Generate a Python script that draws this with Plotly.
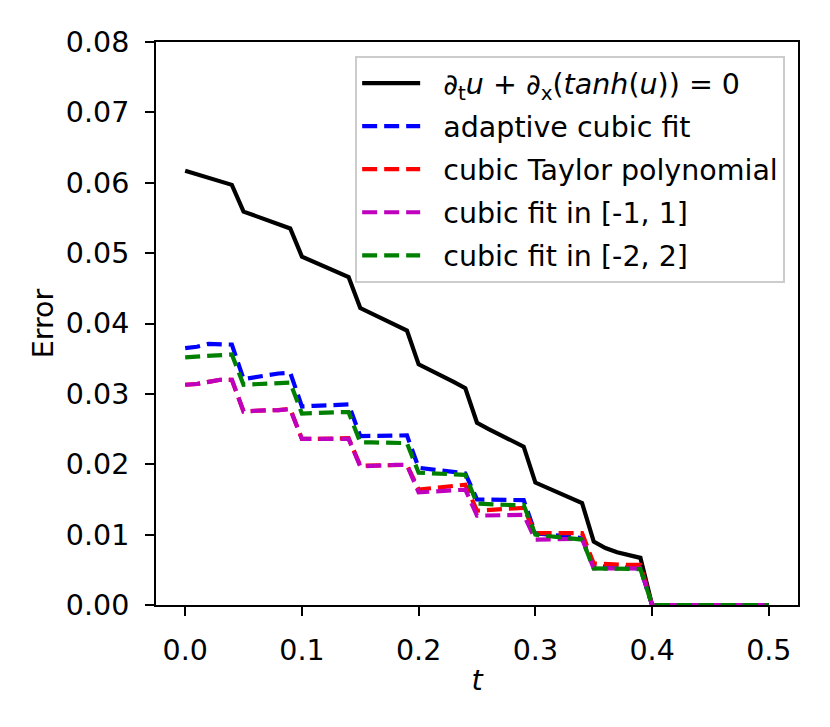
import plotly.graph_objects as go

# time grid (t) and error curves
t = [0.00, 0.01, 0.02, 0.03, 0.04, 0.05, 0.06, 0.07, 0.08, 0.09,
     0.10, 0.11, 0.12, 0.13, 0.14, 0.15, 0.16, 0.17, 0.18, 0.19,
     0.20, 0.21, 0.22, 0.23, 0.24, 0.25, 0.26, 0.27, 0.28, 0.29,
     0.30, 0.31, 0.32, 0.33, 0.34, 0.35, 0.36, 0.37, 0.38, 0.39,
     0.40, 0.41, 0.42, 0.43, 0.44, 0.45, 0.46, 0.47, 0.48, 0.49, 0.50]

tail = [0.0] * 10

err_exact = [0.0617, 0.0612, 0.0607, 0.0602, 0.0597,
             0.0559, 0.0553, 0.0547, 0.0541, 0.0535,
             0.0495, 0.0488, 0.0481, 0.0474, 0.0466,
             0.0422, 0.0414, 0.0406, 0.0398, 0.0390,
             0.0342, 0.0334, 0.0325, 0.0317, 0.0308,
             0.0259, 0.0250, 0.0242, 0.0234, 0.0225,
             0.0174, 0.0167, 0.0160, 0.0152, 0.0145,
             0.0090, 0.0081, 0.0075, 0.0071, 0.0067,
             0.0] + tail

err_adaptive = [0.0365, 0.0367, 0.0371, 0.0371, 0.0370,
                0.0321, 0.0324, 0.0327, 0.0329, 0.0330,
                0.0282, 0.0283, 0.0284, 0.0285, 0.0285,
                0.0240, 0.0240, 0.0241, 0.0241, 0.0241,
                0.0195, 0.0193, 0.0191, 0.0189, 0.0187,
                0.0150, 0.0150, 0.0150, 0.0149, 0.0149,
                0.0102, 0.0100, 0.0098, 0.0097, 0.0095,
                0.0055, 0.0054, 0.0053, 0.0053, 0.0052,
                0.0] + tail

err_taylor = [0.0313, 0.0314, 0.0317, 0.0320, 0.0320,
              0.0275, 0.0276, 0.0276, 0.0277, 0.0279,
              0.0236, 0.0236, 0.0236, 0.0237, 0.0237,
              0.0198, 0.0198, 0.0199, 0.0199, 0.0199,
              0.0164, 0.0166, 0.0168, 0.0170, 0.0171,
              0.0134, 0.0135, 0.0136, 0.0137, 0.0138,
              0.0102, 0.0102, 0.0102, 0.0102, 0.0102,
              0.0059, 0.0058, 0.0058, 0.0057, 0.0057,
              0.0] + tail

err_fit1 = [0.0313, 0.0314, 0.0317, 0.0320, 0.0320,
            0.0275, 0.0276, 0.0276, 0.0277, 0.0278,
            0.0236, 0.0236, 0.0236, 0.0236, 0.0236,
            0.0197, 0.0198, 0.0198, 0.0199, 0.0199,
            0.0160, 0.0161, 0.0162, 0.0163, 0.0164,
            0.0127, 0.0127, 0.0128, 0.0128, 0.0128,
            0.0093, 0.0093, 0.0094, 0.0094, 0.0094,
            0.0052, 0.0052, 0.0052, 0.0052, 0.0052,
            0.0] + tail

err_fit2 = [0.0352, 0.0353, 0.0355, 0.0356, 0.0356,
            0.0313, 0.0314, 0.0315, 0.0316, 0.0316,
            0.0272, 0.0273, 0.0273, 0.0274, 0.0274,
            0.0231, 0.0231, 0.0231, 0.0230, 0.0230,
            0.0188, 0.0187, 0.0186, 0.0186, 0.0185,
            0.0144, 0.0143, 0.0143, 0.0142, 0.0142,
            0.0100, 0.0098, 0.0096, 0.0094, 0.0093,
            0.0052, 0.0052, 0.0051, 0.0051, 0.0051,
            0.0] + tail

x_ticks = [0.0, 0.1, 0.2, 0.3, 0.4, 0.5]
y_ticks = [0.00, 0.01, 0.02, 0.03, 0.04, 0.05, 0.06, 0.07, 0.08]

series = [
    ("\u2202<sub>t</sub><i>u</i> + \u2202<sub>x</sub>(<i>tanh</i>(<i>u</i>)) = 0", err_exact, "#000000", "solid"),
    ("adaptive cubic fit", err_adaptive, "#0000ff", "15px,7px"),
    ("cubic Taylor polynomial", err_taylor, "#ff0000", "15px,7px"),
    ("cubic fit in [-1, 1]", err_fit1, "#bf00bf", "15px,7px"),
    ("cubic fit in [-2, 2]", err_fit2, "#008000", "15px,7px"),
]

FONT = "DejaVu Sans"
FS = 28.5
PAD = "\u00a0\u00a0"  # gap between legend line and label, as in matplotlib

fig = go.Figure()
for i, (name, vals, color, dash) in enumerate(series):
    fig.add_trace(go.Scatter(x=t, y=vals, mode="lines", name=PAD + name,
                             legendgroup=str(i),
                             line=dict(color=color, width=4.2, dash=dash)))

axis_style = dict(showline=True, linecolor="black", linewidth=2, mirror=True,
                  ticks="outside", ticklen=9, tickwidth=2, tickcolor="black",
                  showgrid=False, zeroline=False, ticklabelstandoff=10,
                  tickfont=dict(family=FONT, size=FS, color="black"))

fig.update_xaxes(range=[-0.025, 0.525], tickvals=x_ticks,
                 ticktext=["%.1f" % v for v in x_ticks],
                 title=dict(text="<i>t</i>", font=dict(family=FONT, size=FS, color="black"), standoff=4),
                 **axis_style)
fig.update_yaxes(range=[0, 0.08], tickvals=y_ticks,
                 ticktext=["%.2f" % v for v in y_ticks],
                 title=dict(text="Error", font=dict(family=FONT, size=FS, color="black"), standoff=4),
                 **axis_style)

# the page body adds an 8px offset, so the figure is drawn 8px smaller
fig.update_layout(
    width=822, height=719,
    margin=dict(l=148, r=32, t=34, b=122),
    plot_bgcolor="white", paper_bgcolor="white",
    font=dict(family=FONT, size=FS, color="black"),
    legend=dict(x=0.98, y=0.975, xanchor="right", yanchor="top",
                bgcolor="rgba(255,255,255,0.8)", bordercolor="#cccccc", borderwidth=2,
                tracegroupgap=3, traceorder="grouped", itemwidth=58,
                font=dict(family=FONT, size=FS, color="black")),
    showlegend=True,
)

fig.write_html("out.html")
